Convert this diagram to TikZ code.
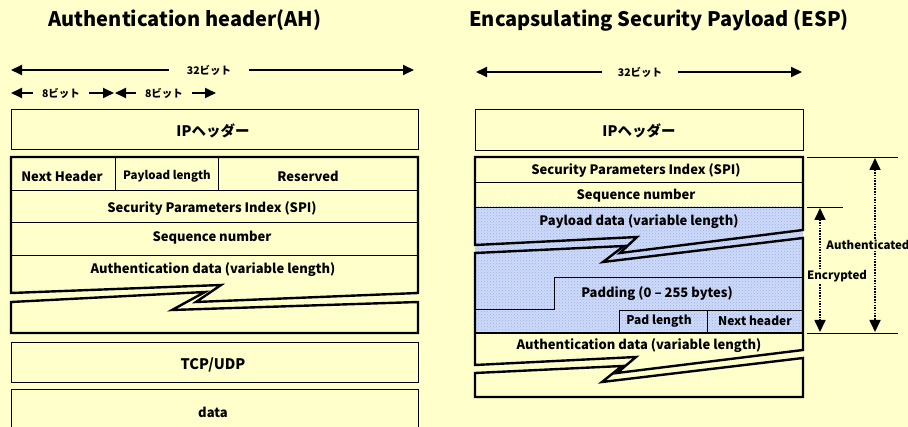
\documentclass[tikz,border=0pt]{standalone}
\usepackage{fontspec}
\setmainfont{Noto Sans CJK JP}
\usetikzlibrary{arrows.meta,patterns}
\definecolor{paper}{RGB}{255,255,204}
\definecolor{encblue}{RGB}{206,218,248}
\definecolor{encdot}{RGB}{150,176,236}
\tikzset{
  field/.style={line width=0.9pt},
  frame/.style={line width=2.4pt,line join=miter},
  lbl/.style={font=\bfseries\fontsize{13}{15}\selectfont,inner sep=0pt},
  biglbl/.style={font=\bfseries\fontsize{14.5}{16}\selectfont,inner sep=0pt},
  padlbl/.style={font=\bfseries\fontsize{12}{14}\selectfont,inner sep=0pt},
  smalllbl/.style={font=\bfseries\fontsize{11.5}{13}\selectfont,inner sep=0pt},
  ttl/.style={font=\bfseries\fontsize{20}{24}\selectfont,inner sep=0pt},
  bitlbl/.style={font=\bfseries\fontsize{10.5}{12}\selectfont,inner ysep=0pt,inner xsep=#1},
  bitarrow/.style={line width=1.8pt,-{Triangle[length=11pt,width=10pt]}},
  spanarrow/.style={line width=1.7pt,dash pattern=on 1.5pt off 1.2pt,
    {Triangle[length=12pt,width=11pt]}-{Triangle[length=12pt,width=11pt]}},
  guide/.style={line width=0.9pt}
}
\begin{document}
\begin{tikzpicture}[x=1pt,y=-1pt]
  \fill[paper] (0,0) rectangle (908,427);
  \useasboundingbox (0,0) rectangle (908,427);

  \node[ttl] (ahtitle) at (185,20) {Authentication header(AH)};
  \node[ttl] (esptitle) at (659,20) {Encapsulating Security Payload (ESP)};

  \coordinate (ah32l) at (11,70);
  \coordinate (ah32r) at (414,70);
  \node[bitlbl=18pt] (ah32) at (209,70) {32ビット};
  \draw[bitarrow] (ah32.west) -- (ah32l);
  \draw[bitarrow] (ah32.east) -- (ah32r);
  \coordinate (ah8al) at (11,93);
  \coordinate (ah8ar) at (114,93);
  \node[bitlbl=9pt] (ah8a) at (61,93) {8ビット};
  \draw[bitarrow] (ah8a.west) -- (ah8al);
  \draw[bitarrow] (ah8a.east) -- (ah8ar);
  \coordinate (ah8bl) at (115,93);
  \coordinate (ah8br) at (216,93);
  \node[bitlbl=9pt] (ah8b) at (164,93) {8ビット};
  \draw[bitarrow] (ah8b.west) -- (ah8bl);
  \draw[bitarrow] (ah8b.east) -- (ah8br);

  \draw[field] (11,109) rectangle (418,149);
  \node[biglbl] (ahip) at (213,131) {IPヘッダー};
  \draw[field] (115,157) -- (115,190) (218,157) -- (218,190);
  \draw[field] (11,190) -- (418,190) (11,222) -- (418,222) (11,255) -- (418,255);
  \draw[frame] (11,293) -- (11,157) -- (418,157) -- (418,293) -- (196,302) -- (221,285) -- cycle;
  \draw[frame] (11,302) -- (205,292) -- (172,310) -- (418,302) -- (418,333) -- (11,333) -- cycle;
  \node[lbl] (ahnext) at (62,176) {Next Header};
  \node[smalllbl] (ahplen) at (167,176) {Payload length};
  \node[lbl] (ahres) at (308,176) {Reserved};
  \node[lbl] (ahspi) at (212,208) {Security Parameters Index (SPI)};
  \node[lbl] (ahseq) at (212,238) {Sequence number};
  \node[lbl] (ahauth) at (213,270) {Authentication data (variable length)};
  \draw[field] (11,342) rectangle (418,382);
  \node[biglbl] (ahtcp) at (213,365) {TCP/UDP};
  \draw[field] (11,389) rectangle (418,440);
  \node[lbl] (ahdata) at (213,412) {data};

  \coordinate (esp32l) at (476,72);
  \coordinate (esp32r) at (802,72);
  \node[bitlbl=15.5pt] (esp32) at (640,72) {32ビット};
  \draw[bitarrow] (esp32.west) -- (esp32l);
  \draw[bitarrow] (esp32.east) -- (esp32r);

  \draw[field] (475,109) rectangle (803,150);
  \node[biglbl] (espip) at (639,131) {IPヘッダー};
  \fill[encblue] (475,207) rectangle (803,333);
  \fill[pattern=crosshatch dots,pattern color=encdot] (475,207) rectangle (803,333);
  \draw[field] (475,182) -- (803,182) (475,207) -- (803,207);
  \draw[field] (475,309) -- (554,309) -- (554,277) -- (803,277);
  \draw[field] (619,333) -- (619,310) -- (803,310) (707,310) -- (707,333);
  \draw[line width=1.6pt] (475,333) -- (803,333);
  \draw[frame] (475,245) -- (475,157) -- (803,157) -- (803,230) -- (620,253) -- (637,237) -- cycle;
  \draw[frame] (475,253) -- (624,246) -- (603,262) -- (803,238) -- (803,350) -- (617,373) -- (636,357) -- (475,365) -- cycle;
  \draw[frame] (475,373) -- (622,366) -- (602,382) -- (803,358) -- (803,397) -- (475,397) -- cycle;
  \node[lbl] (espspi) at (636,170) {Security Parameters Index (SPI)};
  \node[lbl] (espseq) at (636,196) {Sequence number};
  \node[lbl] (esppay) at (639,222) {Payload data (variable length)};
  \node[lbl] (esppad) at (657,294) {Padding (0 – 255 bytes)};
  \node[padlbl] (esppadlen) at (659,321) {Pad length};
  \node[padlbl] (espnext) at (755,321) {Next header};
  \node[lbl] (espauth) at (639,346) {Authentication data (variable length)};

  \coordinate (authtopl) at (807,157);
  \coordinate (authtopr) at (898,157);
  \coordinate (enctopl) at (807,207);
  \coordinate (enctopr) at (843,207);
  \coordinate (botl) at (807,333);
  \coordinate (botr) at (898,333);
  \draw[guide] (authtopl) -- (authtopr);
  \draw[guide] (enctopl) -- (enctopr);
  \draw[guide] (botl) -- (botr);
  \coordinate (authtop) at (875,158);
  \coordinate (authbot) at (875,332);
  \coordinate (enctop) at (820,208);
  \coordinate (encbot) at (820,332);
  \draw[spanarrow] (authtop) -- (authbot);
  \draw[spanarrow] (enctop) -- (encbot);
  \node[smalllbl,fill=paper,inner sep=1pt] (authlbl) at (868,245) {Authenticated};
  \node[smalllbl,fill=paper,inner sep=1pt] (enclbl) at (837,276) {Encrypted};
\end{tikzpicture}
\end{document}
